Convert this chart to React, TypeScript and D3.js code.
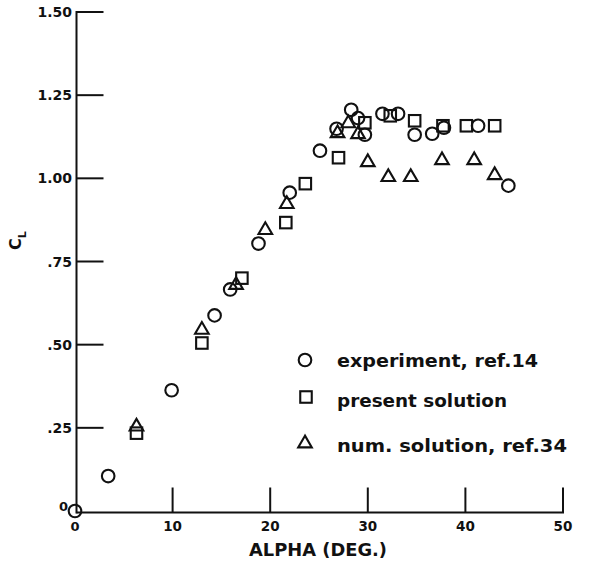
import React from "react";
import * as d3 from "d3";

const experimentAlpha = [0, 3.4, 9.9, 14.3, 15.9, 18.8, 22.0, 25.1, 26.8, 28.3, 29.0, 29.7, 31.5, 33.1, 34.8, 36.6, 37.8, 41.3, 44.4];
const experimentCL = [0, 0.105, 0.363, 0.588, 0.666, 0.804, 0.957, 1.083, 1.149, 1.206, 1.181, 1.131, 1.194, 1.194, 1.131, 1.134, 1.152, 1.158, 0.978];

const presentAlpha = [6.3, 13.0, 17.1, 21.6, 23.6, 27.0, 29.7, 32.3, 34.8, 37.7, 40.1, 43.0];
const presentCL = [0.234, 0.505, 0.70, 0.867, 0.984, 1.062, 1.167, 1.188, 1.173, 1.158, 1.158, 1.158];

const numAlpha = [6.3, 13.0, 16.5, 19.5, 21.7, 26.9, 28.0, 29.0, 30.0, 32.1, 34.4, 37.6, 40.9, 43.0];
const numCL = [0.258, 0.549, 0.684, 0.849, 0.927, 1.14, 1.17, 1.137, 1.053, 1.008, 1.008, 1.059, 1.059, 1.014];

const xTicks = [10, 20, 30, 40, 50];
const xTickLabels = ["10", "20", "30", "40", "50"];
const yTicks = [0.25, 0.5, 0.75, 1.0, 1.25, 1.5];
const yTickLabels = [".25", ".50", ".75", "1.00", "1.25", "1.50"];

const legendLabels = ["experiment, ref.14", "present solution", "num. solution, ref.34"];

const W = 606;
const H = 564;
const FONT = "'DejaVu Sans', sans-serif";

const x = d3.scaleLinear().domain([0, 50]).range([75, 563]);
const y = d3.scaleLinear().domain([0, 1.5]).range([511, 12]);

const SW = 2.1;

function Circle({ cx, cy }: { cx: number; cy: number }) {
  return <circle cx={cx} cy={cy} r={6.3} fill="none" stroke="#111" strokeWidth={SW} />;
}
function Square({ cx, cy }: { cx: number; cy: number }) {
  const s = 11.5;
  return <rect x={cx - s / 2} y={cy - s / 2} width={s} height={s} fill="none" stroke="#111" strokeWidth={SW} />;
}
function Triangle({ cx, cy }: { cx: number; cy: number }) {
  const p = `${cx},${cy - 6.3} ${cx - 6.8},${cy + 5.4} ${cx + 6.8},${cy + 5.4}`;
  return <polygon points={p} fill="none" stroke="#111" strokeWidth={SW} strokeLinejoin="miter" />;
}

export default function App() {
  const axisX = 76.5;
  const axisY = 512.5;
  return (
    <svg width={W} height={H} style={{ position: "absolute", left: 0, top: 0, background: "#fff" }}>
      <rect width={W} height={H} fill="#fff" />
      {/* axes */}
      <line x1={axisX} y1={y(1.5) - 1} x2={axisX} y2={axisY + 1} stroke="#111" strokeWidth={2} />
      <line x1={axisX} y1={axisY} x2={x(50) + 1} y2={axisY} stroke="#111" strokeWidth={2} />
      {yTicks.map((t, i) => (
        <g key={"y" + i}>
          <line x1={axisX} x2={axisX + 27} y1={y(t)} y2={y(t)} stroke="#111" strokeWidth={2} />
          <text x={72} y={y(t) + 5} textAnchor="end" fontFamily={FONT} fontWeight="bold" fontSize={14} fill="#111">
            {yTickLabels[i]}
          </text>
        </g>
      ))}
      <text x={68} y={y(0)} textAnchor="end" fontFamily={FONT} fontWeight="bold" fontSize={13} fill="#111">0</text>
      {xTicks.map((t, i) => (
        <g key={"x" + i}>
          <line x1={x(t)} x2={x(t)} y1={axisY} y2={axisY - 25} stroke="#111" strokeWidth={2} />
          <text x={x(t)} y={531} textAnchor="middle" fontFamily={FONT} fontWeight="bold" fontSize={13.5} fill="#111">
            {xTickLabels[i]}
          </text>
        </g>
      ))}
      <text x={x(0)} y={531} textAnchor="middle" fontFamily={FONT} fontWeight="bold" fontSize={13} fill="#111">0</text>
      <text x={318} y={556} textAnchor="middle" fontFamily={FONT} fontWeight="bold" fontSize={18} textLength={138} lengthAdjust="spacingAndGlyphs" fill="#111">
        ALPHA (DEG.)
      </text>
      <text transform="translate(21,250) rotate(-90)" fontFamily={FONT} fontWeight="bold" fontSize={16} fill="#111">
        C<tspan fontSize={11} dy={5}>L</tspan>
      </text>

      {/* data */}
      {numAlpha.map((a, i) => (
        <Triangle key={"t" + i} cx={x(a)} cy={y(numCL[i])} />
      ))}
      {presentAlpha.map((a, i) => (
        <Square key={"s" + i} cx={x(a)} cy={y(presentCL[i])} />
      ))}
      {experimentAlpha.map((a, i) => (
        <Circle key={"c" + i} cx={x(a)} cy={y(experimentCL[i])} />
      ))}

      {/* legend */}
      <Circle cx={305} cy={360} />
      <Square cx={306} cy={397} />
      <Triangle cx={305} cy={442} />
      <text x={337} y={367} fontFamily={FONT} fontWeight="bold" fontSize={18} textLength={201} lengthAdjust="spacingAndGlyphs" fill="#111">{legendLabels[0]}</text>
      <text x={337} y={407} fontFamily={FONT} fontWeight="bold" fontSize={18} textLength={170} lengthAdjust="spacingAndGlyphs" fill="#111">{legendLabels[1]}</text>
      <text x={337} y={452} fontFamily={FONT} fontWeight="bold" fontSize={18} textLength={230} lengthAdjust="spacingAndGlyphs" fill="#111">{legendLabels[2]}</text>
    </svg>
  );
}
